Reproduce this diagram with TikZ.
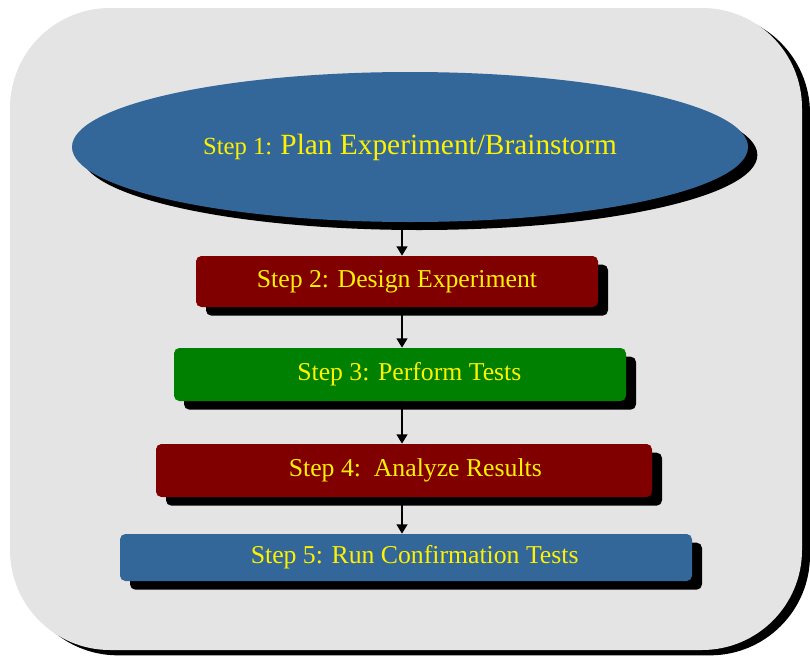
\documentclass[tikz,border=0pt]{standalone}
\usepackage{fontspec}
\setmainfont{Liberation Serif}
\usetikzlibrary{arrows.meta,shapes.geometric,shadows}
\definecolor{bggray}{HTML}{E4E4E4}
\definecolor{stepblue}{HTML}{336699}
\definecolor{stepred}{HTML}{800000}
\definecolor{stepgreen}{HTML}{008000}

\begin{document}
\begin{tikzpicture}[x=0.75pt, y=-0.75pt,
    frame/.style={fill=bggray, rounded corners=75pt, inner sep=0pt,
      general shadow={fill=black, shadow xshift=6pt, shadow yshift=-4pt}},
    stepbox/.style={rounded corners=4pt, inner sep=0pt, text=yellow,
      font=\fontsize{19.3}{23}\selectfont,
      general shadow={fill=black, shadow xshift=7.5pt, shadow yshift=-6.5pt}},
    flow/.style={line width=1.5pt, -{Triangle[width=8pt, length=7pt]}}]
    \useasboundingbox (0, 0) rectangle (810, 657);

    \node [frame, minimum width=594pt, minimum height=481.5pt] (frame) at (406, 329) {};

    \node [ellipse, fill=stepblue, inner sep=0pt, text=yellow,
      minimum width=507pt, minimum height=112.5pt,
      general shadow={fill=black, shadow xshift=7pt, shadow yshift=-6pt}] (plan) at (410, 147)
      {\fontsize{18.5}{22}\selectfont Step 1: \fontsize{22}{26}\selectfont Plan Experiment/Brainstorm};

    \node [stepbox, fill=stepred, minimum width=301.5pt, minimum height=38.25pt] (design) at (397, 281.5)
      {Step 2: Design Experiment};
    \node [stepbox, fill=stepgreen, minimum width=339pt, minimum height=39.75pt] (perform) at (400, 374.5)
      {\hspace*{14pt}Step 3: Perform Tests};
    \node [stepbox, fill=stepred, minimum width=372pt, minimum height=39.75pt] (analyze) at (404, 470.5)
      {\hspace*{17pt}Step 4:\ \ Analyze Results};
    \node [stepbox, fill=stepblue, minimum width=429pt, minimum height=35.25pt] (confirm) at (406, 557.5)
      {\hspace*{13pt}Step 5: Run Confirmation Tests};

    \coordinate (ax) at (402, 0);
    \draw [flow] (plan.south -| ax) -- (design.north -| ax);
    \draw [flow] (design.south -| ax) -- (perform.north -| ax);
    \draw [flow] (perform.south -| ax) -- (analyze.north -| ax);
    \draw [flow] (analyze.south -| ax) -- (confirm.north -| ax);
\end{tikzpicture}
\end{document}
